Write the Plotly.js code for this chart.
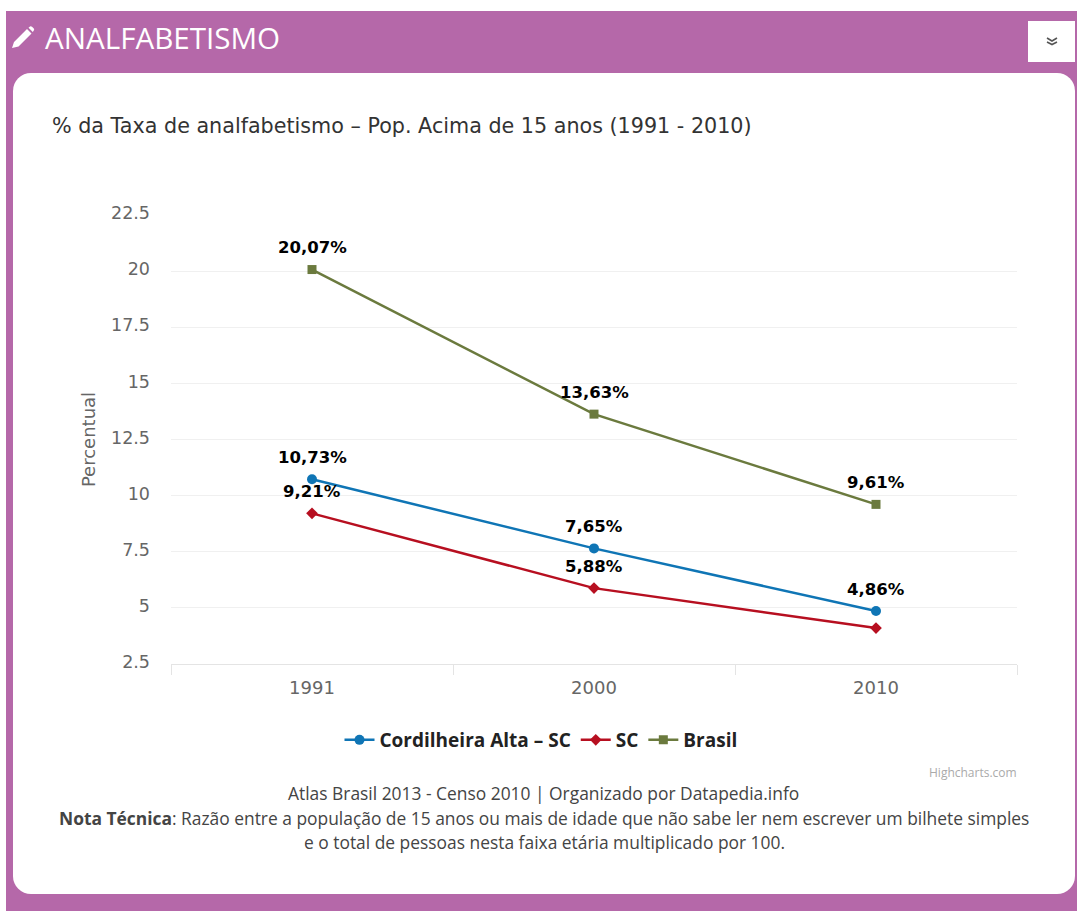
<!DOCTYPE html>
<html><head><meta charset="utf-8">
<script src="https://cdn.plot.ly/plotly-3.0.1.min.js"></script>
<style>
html,body{margin:0;padding:0;background:#fff;width:1077px;height:911px;overflow:hidden}
#panel{position:absolute;left:6px;top:11px;width:1071px;height:900px;background:#b568a9}
#card{position:absolute;left:13px;top:73px;width:1062px;height:821px;background:#fff;border-radius:18px}
#btn{position:absolute;left:1028px;top:21px;width:47px;height:41px;background:#fff}
#pencil{position:absolute;left:10px;top:26px}
#chev{position:absolute;left:1045px;top:36px}
#chart{position:absolute;left:0;top:0;width:1077px;height:911px}
</style></head><body>
<div id="panel"></div><div id="card"></div><div id="btn"></div>
<svg id="pencil" width="28" height="24" viewBox="0 0 28 24"><path d="M2 22 L4 16 L17 3 L21.5 7.5 L8.5 20.5 Z M18.5 1.8 L20 .5 Q21 0 22 .8 L23.8 2.6 Q24.6 3.6 23.8 4.6 L22.8 6 Z" fill="#fff"/></svg>
<svg id="chev" width="14" height="10" viewBox="0 0 14 10"><path d="M2 2 L7 5 L12 2 M2 6 L7 8.5 L12 6" stroke="#555" stroke-width="1.6" fill="none"/></svg>
<div id="chart"></div>
<script>
const W = 1077, H = 911;
const categories = ['1991', '2000', '2010'];
const cordilheira = [10.73, 7.65, 4.86];
const sc = [9.21, 5.88, 4.1];
const brasil = [20.07, 13.63, 9.61];
const cordilheiraLabels = ['10,73%', '7,65%', '4,86%'];
const scLabels = ['9,21%', '5,88%', ''];
const brasilLabels = ['20,07%', '13,63%', '9,61%'];
const labelFont = {family: 'DejaVu Sans', size: 16.5, color: '#000000', weight: 700};
function line(name, y, color, symbol, size) {
  return {type: 'scatter', mode: 'lines+markers', name, x: categories, y, cliponaxis: false,
    line: {color, width: 2.5}, marker: {color, symbol, size}, hoverinfo: 'x+y'};
}
const traces = [
  line('Cordilheira Alta – SC', cordilheira, '#0f75b5', 'circle', 10),
  line('SC', sc, '#b70f20', 'diamond', 9),
  line('Brasil', brasil, '#6b7a3e', 'square', 9)
];
function note(text, x, y, size, color, anchor, family) {
  return {text, xref: 'paper', yref: 'paper', x: (x - 171) / 846, y: (664 - y) / 449,
    xanchor: anchor || 'center', yanchor: 'middle', showarrow: false,
    font: {family: family || 'Open Sans', size, color}};
}
function labels(vals, texts) {
  return vals.map((v, i) => ({text: texts[i], xref: 'x', yref: 'y', x: i, y: v, yshift: 22,
    xanchor: 'center', yanchor: 'middle', showarrow: false, font: labelFont}))
    .filter(a => a.text);
}
const layout = {
  width: W, height: H, autosize: false,
  paper_bgcolor: 'rgba(0,0,0,0)', plot_bgcolor: 'rgba(0,0,0,0)',
  margin: {l: 171, r: 60, t: 215, b: 247, pad: 0},
  showlegend: true,
  title: {text: '% da Taxa de analfabetismo – Pop. Acima de 15 anos (1991 - 2010)',
    x: 52 / W, xanchor: 'left', xref: 'container', y: 1 - 126 / H, yanchor: 'middle', yref: 'container',
    font: {family: 'DejaVu Sans', size: 20.7, color: '#333333'}},
  xaxis: {type: 'category', tickson: 'boundaries', range: [-0.5, 2.5], ticks: 'outside', ticklen: 10,
    tickcolor: '#e4e4e4', linecolor: '#e4e4e4', showline: true, showgrid: false, zeroline: false,
    ticklabelstandoff: 7,
    tickfont: {family: 'DejaVu Sans', size: 18, color: '#666666'}},
  yaxis: {range: [2.5, 22.5], dtick: 2.5, tick0: 2.5, gridcolor: '#f0f0f0', zeroline: false, showline: false,
    ticks: '', ticklabelstandoff: 20, ticklabelshift: -2, tickfont: {family: 'DejaVu Sans', size: 17.5, color: '#666666'},
    title: {text: 'Percentual', standoff: 10, font: {family: 'DejaVu Sans', size: 18, color: '#666666'}}},
  legend: {orientation: 'h', x: (541 - 171) / 846, xanchor: 'center', y: (664 - 740) / 449, yanchor: 'middle',
    font: {family: 'Open Sans', size: 19, color: '#222222', weight: 700}, itemwidth: 30, bgcolor: 'rgba(0,0,0,0)'},
  annotations: [
    note('ANALFABETISMO', 43, 38, 29.6, '#ffffff', 'left'),
    note('Highcharts.com', 1019, 772, 12, '#aaaaaa', 'right'),
    note('Atlas Brasil 2013 - Censo 2010 | Organizado por Datapedia.info', 543, 793, 17.4, '#444444'),
    note('<b>Nota Técnica</b>: Razão entre a população de 15 anos ou mais de idade que não sabe ler nem escrever um bilhete simples', 544, 818, 17.4, '#444444'),
    note('e o total de pessoas nesta faixa etária multiplicado por 100.', 544, 842, 17.4, '#444444')
  ].concat(labels(cordilheira, cordilheiraLabels), labels(sc, scLabels), labels(brasil, brasilLabels))
};
Plotly.newPlot('chart', traces, layout, {displayModeBar: false, responsive: false});
</script>
</body></html>
